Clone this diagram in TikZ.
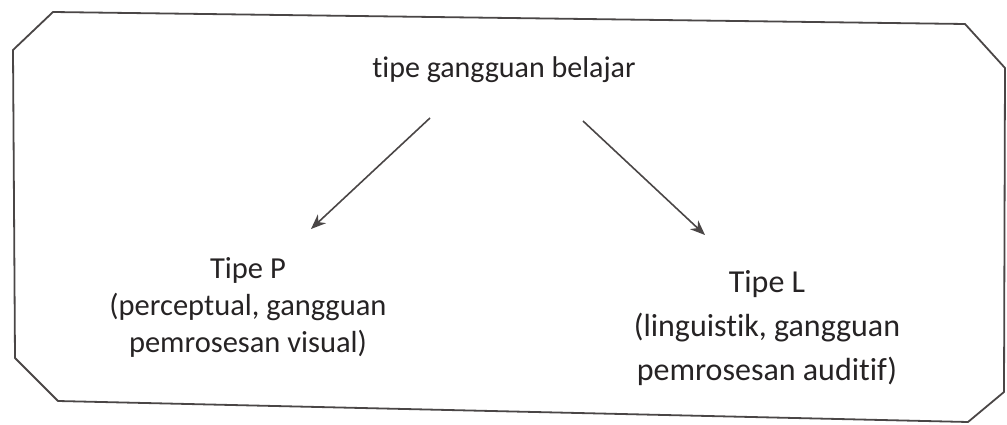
\documentclass[tikz,border=0pt]{standalone}
\usepackage{fontspec}
\setmainfont{Carlito}[Ligatures={NoCommon,NoRequired,NoContextual}]
\usetikzlibrary{arrows.meta}
\definecolor{ink}{HTML}{262324}
\definecolor{frame}{HTML}{4A4646}
\tikzset{
  lbl/.style={text=ink, inner sep=0pt, align=center},
  conn/.style={draw=frame, line width=1.6pt, -{Stealth[length=15pt,width=12pt]}},
  outline/.style={draw=frame, line width=1.8pt, line join=round}
}
\begin{document}
\begin{tikzpicture}[x=1pt,y=-1pt]
\useasboundingbox (0,0) rectangle (1007,425);
\draw[outline] (13,50) -- (53,12) -- (965,24) -- (1005,68) -- (1004,392) -- (968,422) -- (58,401) -- (15,358) -- cycle;
\node[lbl, font=\fontsize{30}{36}\selectfont] (top) at (504,70) {tipe gangguan belajar};
\node[lbl, font=\fontsize{30.5}{37}\selectfont] (tp) at (248,307) {Tipe P\\(perceptual, gangguan\\pemrosesan visual)};
\node[lbl, font=\fontsize{32}{44}\selectfont] (tl) at (767,328) {Tipe L\\(linguistik, gangguan\\pemrosesan auditif)};
\coordinate (a1s) at (430,118);
\coordinate (a1e) at (311,229);
\coordinate (a2s) at (583,121);
\coordinate (a2e) at (705,235);
\draw[conn] (a1s) -- (a1e);
\draw[conn] (a2s) -- (a2e);
\end{tikzpicture}
\end{document}
